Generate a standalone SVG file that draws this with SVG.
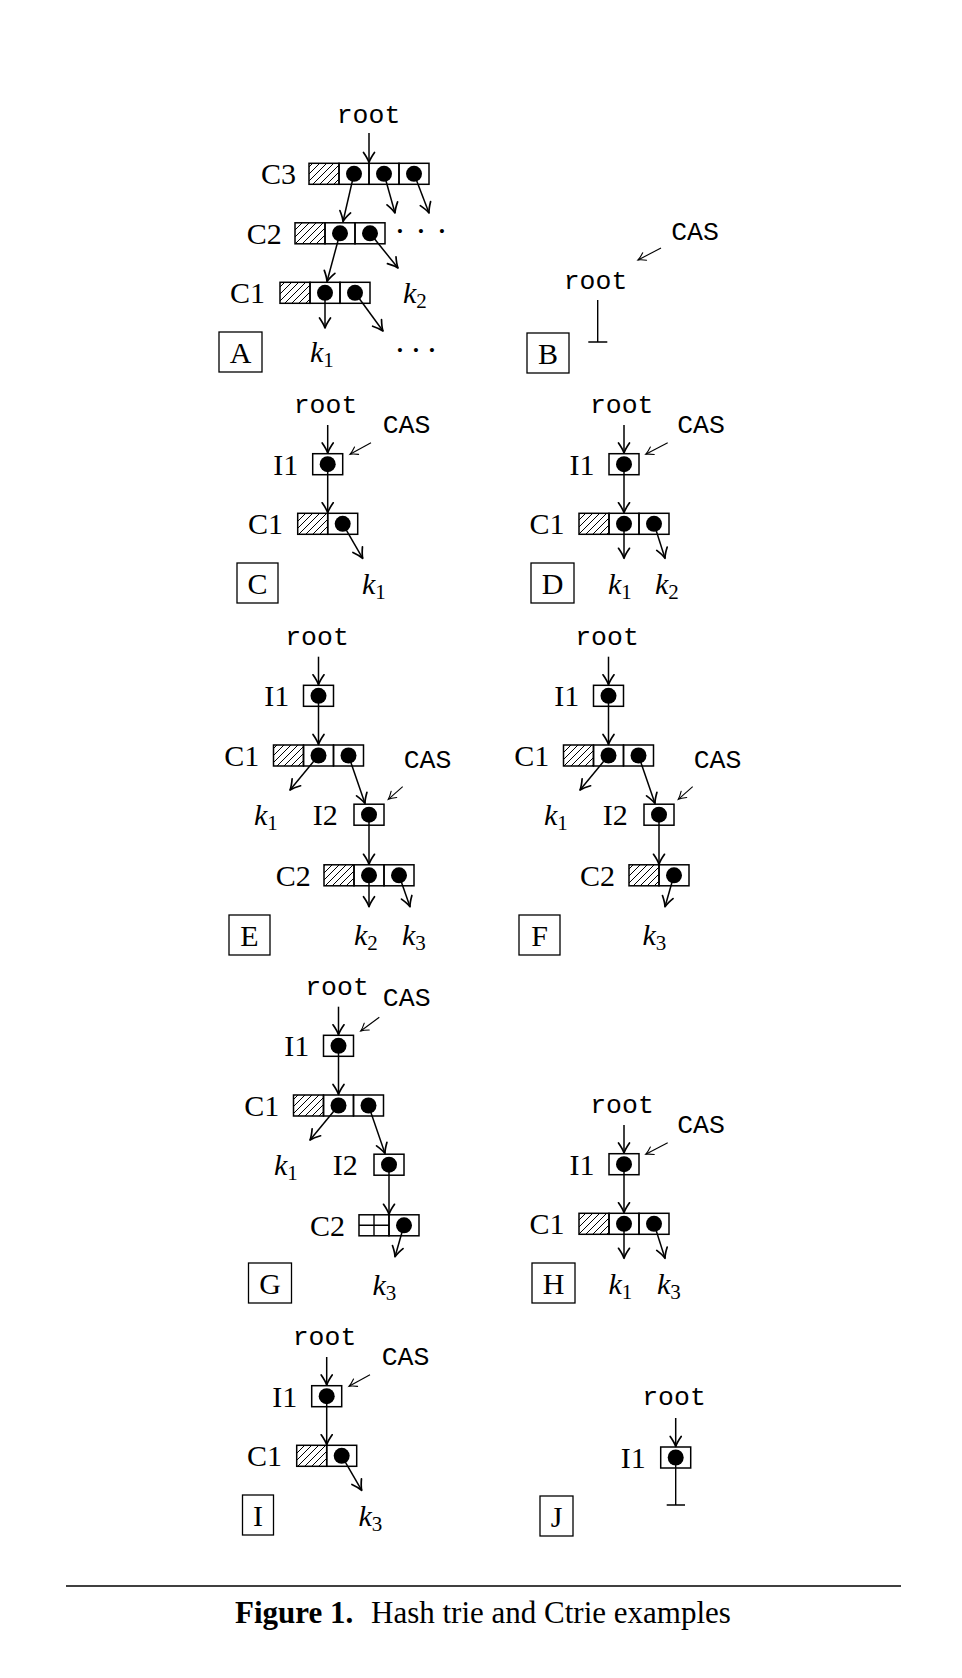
<svg xmlns="http://www.w3.org/2000/svg" width="962" height="1678" viewBox="0 0 962 1678">
<defs>
<pattern id="hatch" width="7" height="7" patternUnits="userSpaceOnUse">
<path d="M0,7 L7,0 M-1,1 L1,-1 M6,8 L8,6" stroke="#000" stroke-width="1"/>
</pattern>
<marker id="ah" markerUnits="userSpaceOnUse" viewBox="-13 -8 15 16" refX="0" refY="0" markerWidth="15" markerHeight="16" orient="auto">
<path d="M-10,-5.5 Q-4,-1.3 0,0 Q-4,1.3 -10,5.5" fill="none" stroke="#000" stroke-width="1.7" stroke-linecap="round" stroke-linejoin="round"/>
</marker>
<marker id="ah2" markerUnits="userSpaceOnUse" viewBox="-10 -6 12 12" refX="0" refY="0" markerWidth="12" markerHeight="12" orient="auto">
<path d="M-7.5,-4.2 Q-3,-1 0,0 Q-3,1 -7.5,4.2" fill="none" stroke="#000" stroke-width="1.1" stroke-linecap="round"/>
</marker>
</defs>
<style>
.cell{fill:none;stroke:#000;stroke-width:1.5}
.h{fill:url(#hatch);stroke:#000;stroke-width:1.5}
.dot{fill:#000}
.e{fill:none;stroke:#000;stroke-width:1.5;marker-end:url(#ah)}
.cas{fill:none;stroke:#000;stroke-width:1.1;marker-end:url(#ah2)}
.ln{fill:none;stroke:#000;stroke-width:1.4}
.lbl{fill:none;stroke:#000;stroke-width:1.3}
.mono{font-family:"Liberation Mono","DejaVu Sans Mono",monospace;font-size:26.5px;fill:#000;text-anchor:middle}
.ser{font-family:"Liberation Serif","Times New Roman",serif;font-size:30px;fill:#000}
.mid{text-anchor:middle}
.it{font-style:italic}
.sub{font-size:21px;font-style:normal}
.dots{font-family:"Liberation Serif","Times New Roman",serif;font-size:34px;fill:#000;text-anchor:middle}
.cap{font-family:"Liberation Serif","Times New Roman",serif;font-size:31px;fill:#000}
</style>

<!-- Panel A -->
<g id="panelA">
<text class="mono" x="368.5" y="123">root</text>
<text class="ser mid" x="278.5" y="184">C3</text>
<text class="ser mid" x="264.2" y="243.5">C2</text>
<text class="ser mid" x="247.5" y="303">C1</text>
<g id="A-C3">
<rect class="h" x="309" y="163.3" width="30" height="21"/>
<rect class="cell" x="339" y="163.3" width="30" height="21"/>
<rect class="cell" x="369" y="163.3" width="30" height="21"/>
<rect class="cell" x="399" y="163.3" width="30" height="21"/>
<circle class="dot" cx="354" cy="173.8" r="8"/>
<circle class="dot" cx="384" cy="173.8" r="8"/>
<circle class="dot" cx="414" cy="173.8" r="8"/>
</g>
<g id="A-C2">
<rect class="h" x="295" y="222.8" width="30" height="21"/>
<rect class="cell" x="325" y="222.8" width="30" height="21"/>
<rect class="cell" x="355" y="222.8" width="30" height="21"/>
<circle class="dot" cx="340" cy="233.3" r="8"/>
<circle class="dot" cx="370" cy="233.3" r="8"/>
</g>
<g id="A-C1">
<rect class="h" x="280" y="282.3" width="30" height="21"/>
<rect class="cell" x="310" y="282.3" width="30" height="21"/>
<rect class="cell" x="340" y="282.3" width="30" height="21"/>
<circle class="dot" cx="325" cy="292.8" r="8"/>
<circle class="dot" cx="355" cy="292.8" r="8"/>
</g>
<text class="dots" x="400 421 442" y="242">···</text>
<text class="dots" x="400 416 432" y="361">···</text>
<text class="ser" x="403" y="303"><tspan class="it">k</tspan><tspan class="sub" dy="5">2</tspan></text>
<text class="ser" x="310" y="362"><tspan class="it">k</tspan><tspan class="sub" dy="5">1</tspan></text>
<rect class="lbl" x="219" y="332" width="43" height="40"/>
<text class="ser mid" x="240.5" y="362.5">A</text>
</g>

<!-- Panel B -->
<g id="panelB">
<text class="mono" x="695" y="240">CAS</text>
<text class="mono" x="595.5" y="289">root</text>
<rect class="lbl" x="527" y="333" width="42" height="40"/>
<text class="ser mid" x="548" y="363.5">B</text>
</g>

<!-- Panel C -->
<g id="panelC">
<text class="mono" x="325.5" y="413.3">root</text>
<text class="mono" x="406.5" y="433">CAS</text>
<text class="ser mid" x="285.7" y="475">I1</text>
<text class="ser mid" x="265.5" y="534">C1</text>
<g id="C-I1">
<rect class="cell" x="312.7" y="453.7" width="30" height="21"/>
<circle class="dot" cx="327.7" cy="464.2" r="8"/>
</g>
<g id="C-C1">
<rect class="h" x="297.7" y="513.3" width="30" height="21"/>
<rect class="cell" x="327.7" y="513.3" width="30" height="21"/>
<circle class="dot" cx="342.7" cy="523.8" r="8"/>
</g>
<text class="ser" x="362" y="594"><tspan class="it">k</tspan><tspan class="sub" dy="5">1</tspan></text>
<rect class="lbl" x="237" y="563" width="41" height="40"/>
<text class="ser mid" x="257.5" y="593.5">C</text>
</g>

<!-- Panel D -->
<g id="panelD">
<text class="mono" x="621.7" y="413.3">root</text>
<text class="mono" x="701" y="433">CAS</text>
<text class="ser mid" x="582" y="475">I1</text>
<text class="ser mid" x="547" y="534">C1</text>
<g id="D-I1">
<rect class="cell" x="609" y="453.7" width="30" height="21"/>
<circle class="dot" cx="624" cy="464.2" r="8"/>
</g>
<g id="D-C1">
<rect class="h" x="579" y="513.3" width="30" height="21"/>
<rect class="cell" x="609" y="513.3" width="30" height="21"/>
<rect class="cell" x="639" y="513.3" width="30" height="21"/>
<circle class="dot" cx="624" cy="523.8" r="8"/>
<circle class="dot" cx="654" cy="523.8" r="8"/>
</g>
<text class="ser" x="608" y="594"><tspan class="it">k</tspan><tspan class="sub" dy="5">1</tspan></text>
<text class="ser" x="655" y="594"><tspan class="it">k</tspan><tspan class="sub" dy="5">2</tspan></text>
<rect class="lbl" x="531" y="563" width="43" height="40"/>
<text class="ser mid" x="552.5" y="593.5">D</text>
</g>

<!-- Panel E -->
<g id="panelE">
<text class="mono" x="317" y="645">root</text>
<text class="mono" x="427.5" y="768">CAS</text>
<text class="ser mid" x="276.7" y="706">I1</text>
<text class="ser mid" x="241.7" y="766">C1</text>
<text class="ser mid" x="325.3" y="825">I2</text>
<text class="ser mid" x="293.3" y="886">C2</text>
<g id="E-I1">
<rect class="cell" x="303.5" y="685.3" width="30" height="21"/>
<circle class="dot" cx="318.5" cy="695.8" r="8"/>
</g>
<g id="E-C1">
<rect class="h" x="273.5" y="745" width="30" height="21"/>
<rect class="cell" x="303.5" y="745" width="30" height="21"/>
<rect class="cell" x="333.5" y="745" width="30" height="21"/>
<circle class="dot" cx="318.5" cy="755.5" r="8"/>
<circle class="dot" cx="348.5" cy="755.5" r="8"/>
</g>
<g id="E-I2">
<rect class="cell" x="354" y="804.2" width="30" height="21"/>
<circle class="dot" cx="369" cy="814.7" r="8"/>
</g>
<g id="E-C2">
<rect class="h" x="324" y="864.8" width="30" height="21"/>
<rect class="cell" x="354" y="864.8" width="30" height="21"/>
<rect class="cell" x="384" y="864.8" width="30" height="21"/>
<circle class="dot" cx="369" cy="875.3" r="8"/>
<circle class="dot" cx="399" cy="875.3" r="8"/>
</g>
<text class="ser" x="254" y="825"><tspan class="it">k</tspan><tspan class="sub" dy="5">1</tspan></text>
<text class="ser" x="354" y="945"><tspan class="it">k</tspan><tspan class="sub" dy="5">2</tspan></text>
<text class="ser" x="402" y="945"><tspan class="it">k</tspan><tspan class="sub" dy="5">3</tspan></text>
<rect class="lbl" x="229" y="915" width="41" height="40"/>
<text class="ser mid" x="249.5" y="945.5">E</text>
</g>

<!-- Panel F -->
<g id="panelF">
<text class="mono" x="607" y="645">root</text>
<text class="mono" x="717.5" y="768">CAS</text>
<text class="ser mid" x="566.7" y="706">I1</text>
<text class="ser mid" x="531.7" y="766">C1</text>
<text class="ser mid" x="615.3" y="825">I2</text>
<text class="ser mid" x="597.5" y="886">C2</text>
<g id="F-I1">
<rect class="cell" x="593.5" y="685.3" width="30" height="21"/>
<circle class="dot" cx="608.5" cy="695.8" r="8"/>
</g>
<g id="F-C1">
<rect class="h" x="563.5" y="745" width="30" height="21"/>
<rect class="cell" x="593.5" y="745" width="30" height="21"/>
<rect class="cell" x="623.5" y="745" width="30" height="21"/>
<circle class="dot" cx="608.5" cy="755.5" r="8"/>
<circle class="dot" cx="638.5" cy="755.5" r="8"/>
</g>
<g id="F-I2">
<rect class="cell" x="644" y="804.2" width="30" height="21"/>
<circle class="dot" cx="659" cy="814.7" r="8"/>
</g>
<g id="F-C2">
<rect class="h" x="629" y="864.8" width="30" height="21"/>
<rect class="cell" x="659" y="864.8" width="30" height="21"/>
<circle class="dot" cx="674" cy="875.3" r="8"/>
</g>
<text class="ser" x="544" y="825"><tspan class="it">k</tspan><tspan class="sub" dy="5">1</tspan></text>
<text class="ser" x="642.5" y="945"><tspan class="it">k</tspan><tspan class="sub" dy="5">3</tspan></text>
<rect class="lbl" x="519" y="915" width="41" height="40"/>
<text class="ser mid" x="539.5" y="945.5">F</text>
</g>

<!-- Panel G -->
<g id="panelG">
<text class="mono" x="337" y="995">root</text>
<text class="mono" x="406.7" y="1006">CAS</text>
<text class="ser mid" x="296.7" y="1056">I1</text>
<text class="ser mid" x="261.7" y="1116">C1</text>
<text class="ser mid" x="345.3" y="1175">I2</text>
<text class="ser mid" x="327.5" y="1236">C2</text>
<g id="G-I1">
<rect class="cell" x="323.5" y="1035.3" width="30" height="21"/>
<circle class="dot" cx="338.5" cy="1045.8" r="8"/>
</g>
<g id="G-C1">
<rect class="h" x="293.5" y="1095" width="30" height="21"/>
<rect class="cell" x="323.5" y="1095" width="30" height="21"/>
<rect class="cell" x="353.5" y="1095" width="30" height="21"/>
<circle class="dot" cx="338.5" cy="1105.5" r="8"/>
<circle class="dot" cx="368.5" cy="1105.5" r="8"/>
</g>
<g id="G-I2">
<rect class="cell" x="374" y="1154.2" width="30" height="21"/>
<circle class="dot" cx="389" cy="1164.7" r="8"/>
</g>
<g id="G-C2">
<rect class="cell" x="359" y="1214.8" width="30" height="21"/>
<path class="ln" d="M374,1214.8 V1235.8 M359,1225.3 H389"/>
<rect class="cell" x="389" y="1214.8" width="30" height="21"/>
<circle class="dot" cx="404" cy="1225.3" r="8"/>
</g>
<text class="ser" x="274" y="1175"><tspan class="it">k</tspan><tspan class="sub" dy="5">1</tspan></text>
<text class="ser" x="372.5" y="1295"><tspan class="it">k</tspan><tspan class="sub" dy="5">3</tspan></text>
<rect class="lbl" x="248.5" y="1263" width="43" height="40"/>
<text class="ser mid" x="270" y="1293.5">G</text>
</g>

<!-- Panel H -->
<g id="panelH">
<text class="mono" x="622" y="1113.3">root</text>
<text class="mono" x="701" y="1133">CAS</text>
<text class="ser mid" x="582" y="1175">I1</text>
<text class="ser mid" x="547" y="1234">C1</text>
<g id="H-I1">
<rect class="cell" x="609" y="1153.7" width="30" height="21"/>
<circle class="dot" cx="624" cy="1164.2" r="8"/>
</g>
<g id="H-C1">
<rect class="h" x="579" y="1213.3" width="30" height="21"/>
<rect class="cell" x="609" y="1213.3" width="30" height="21"/>
<rect class="cell" x="639" y="1213.3" width="30" height="21"/>
<circle class="dot" cx="624" cy="1223.8" r="8"/>
<circle class="dot" cx="654" cy="1223.8" r="8"/>
</g>
<text class="ser" x="608.5" y="1294"><tspan class="it">k</tspan><tspan class="sub" dy="5">1</tspan></text>
<text class="ser" x="657" y="1294"><tspan class="it">k</tspan><tspan class="sub" dy="5">3</tspan></text>
<rect class="lbl" x="532" y="1263" width="43" height="40"/>
<text class="ser mid" x="553.5" y="1293.5">H</text>
</g>

<!-- Panel I -->
<g id="panelI">
<text class="mono" x="324.5" y="1345">root</text>
<text class="mono" x="405.5" y="1365">CAS</text>
<text class="ser mid" x="284.7" y="1407">I1</text>
<text class="ser mid" x="264.5" y="1466">C1</text>
<g id="I-I1">
<rect class="cell" x="311.7" y="1385.7" width="30" height="21"/>
<circle class="dot" cx="326.7" cy="1396.2" r="8"/>
</g>
<g id="I-C1">
<rect class="h" x="296.7" y="1445.3" width="30" height="21"/>
<rect class="cell" x="326.7" y="1445.3" width="30" height="21"/>
<circle class="dot" cx="341.7" cy="1455.8" r="8"/>
</g>
<text class="ser" x="358.5" y="1526"><tspan class="it">k</tspan><tspan class="sub" dy="5">3</tspan></text>
<rect class="lbl" x="242.5" y="1495" width="31" height="40"/>
<text class="ser mid" x="258" y="1525.5">I</text>
</g>

<!-- Panel J -->
<g id="panelJ">
<text class="mono" x="674" y="1405">root</text>
<text class="ser mid" x="633.3" y="1468">I1</text>
<g id="J-I1">
<rect class="cell" x="660.7" y="1447" width="30" height="21"/>
<circle class="dot" cx="675.7" cy="1457.5" r="8"/>
</g>
<rect class="lbl" x="540" y="1496" width="33" height="40"/>
<text class="ser mid" x="556.5" y="1526.5">J</text>
</g>

<!-- Connectors -->
<g id="connectors">
<path class="e" d="M369,133 L369,162.5"/>
<path class="e" d="M354,173.8 L343,221.5"/>
<path class="e" d="M384,173.8 L395,213"/>
<path class="e" d="M414,173.8 L429,213"/>
<path class="e" d="M340,233.3 L327,281.5"/>
<path class="e" d="M370,233.3 L398,268"/>
<path class="e" d="M325,292.8 L325,328"/>
<path class="e" d="M355,292.8 L383,331"/>

<path class="cas" d="M661,248 L638,260"/>
<path class="ln" d="M597.7,300 L597.7,342 M588.3,342 L607.3,342"/>

<path class="e" d="M327.7,425 L327.7,453"/>
<path class="cas" d="M371,442.7 L350,454.3"/>
<path class="e" d="M327.7,464.2 L327.7,512.8"/>
<path class="e" d="M342.7,523.8 L362.7,558.3"/>

<path class="e" d="M624,425 L624,453"/>
<path class="cas" d="M667.7,442.7 L645.7,454.3"/>
<path class="e" d="M624,464.2 L624,512.8"/>
<path class="e" d="M624,523.8 L624,558.3"/>
<path class="e" d="M654,523.8 L665,558.3"/>

<path class="e" d="M318.5,656.7 L318.5,684.8"/>
<path class="e" d="M318.5,695.8 L318.5,744.5"/>
<path class="e" d="M318.5,755.5 L290,790"/>
<path class="e" d="M348.5,755.5 L365,803.5"/>
<path class="cas" d="M402.7,786.7 L388.3,799.3"/>
<path class="e" d="M369,814.7 L369,864.3"/>
<path class="e" d="M369,875.3 L369,906.7"/>
<path class="e" d="M399,875.3 L410,906.7"/>

<path class="e" d="M608.5,656.7 L608.5,684.8"/>
<path class="e" d="M608.5,695.8 L608.5,744.5"/>
<path class="e" d="M608.5,755.5 L580,790"/>
<path class="e" d="M638.5,755.5 L655,803.5"/>
<path class="cas" d="M692.7,786.7 L678.3,799.3"/>
<path class="e" d="M659,814.7 L659,864.3"/>
<path class="e" d="M674,875.3 L665,906.7"/>

<path class="e" d="M338.5,1006.7 L338.5,1034.8"/>
<path class="cas" d="M379.3,1017.3 L360.7,1031"/>
<path class="e" d="M338.5,1045.8 L338.5,1094.5"/>
<path class="e" d="M338.5,1105.5 L310,1140"/>
<path class="e" d="M368.5,1105.5 L385,1153.5"/>
<path class="e" d="M389,1164.7 L389,1214.3"/>
<path class="e" d="M404,1225.3 L395,1256.7"/>

<path class="e" d="M624,1125 L624,1153"/>
<path class="cas" d="M667.7,1142.7 L645.7,1154.3"/>
<path class="e" d="M624,1164.2 L624,1212.8"/>
<path class="e" d="M624,1223.8 L624,1258.3"/>
<path class="e" d="M654,1223.8 L665,1258.3"/>

<path class="e" d="M326.7,1357 L326.7,1385"/>
<path class="cas" d="M370,1374.7 L349,1386.3"/>
<path class="e" d="M326.7,1396.2 L326.7,1444.8"/>
<path class="e" d="M341.7,1455.8 L361.7,1490.3"/>

<path class="e" d="M675.7,1418 L675.7,1446.5"/>
<path class="ln" d="M675.7,1457.5 L675.7,1505 M666.7,1505 L685,1505"/>
</g>

<!-- Caption -->
<g id="caption">
<line x1="66" y1="1586" x2="901" y2="1586" stroke="#000" stroke-width="1.3"/>
<text class="cap" x="235" y="1623" font-weight="bold">Figure 1.</text>
<text class="cap" x="371" y="1623">Hash trie and Ctrie examples</text>
</g>
</svg>
